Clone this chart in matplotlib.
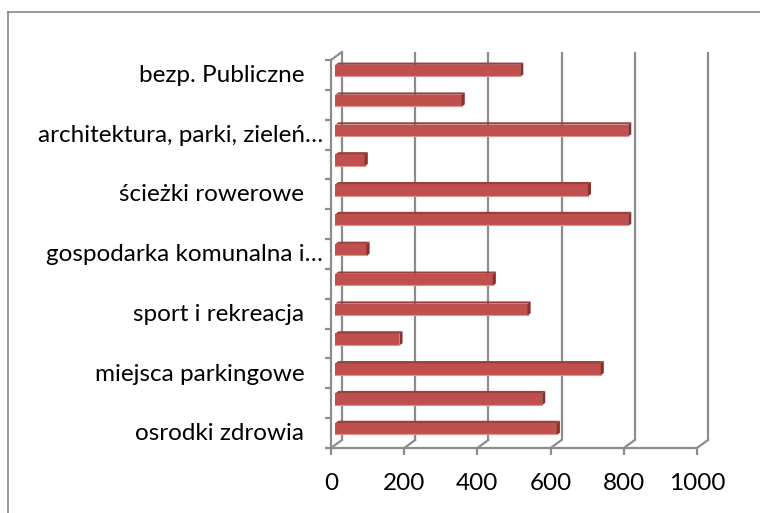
import numpy as np
import matplotlib
matplotlib.use("Agg")
import matplotlib.pyplot as plt
from matplotlib.lines import Line2D
from matplotlib.patches import Polygon

# bottom -> top, only every other category name fits on the axis
categories = ["osrodki zdrowia   ", "", "miejsca parkingowe   ", "", "sport i rekreacja   ", "",
              "gospodarka komunalna i…", "", "ścieżki rowerowe   ", "",
              "architektura, parki, zieleń…", "", "bezp. Publiczne   "]
values = [605, 565, 725, 175, 525, 430, 85, 800, 690, 80, 800, 345, 505]
x_ticks = [0, 200, 400, 600, 800, 1000]

W, H = 760, 513
X0, PX_PER_UNIT = 331, 0.366      # front plane: value 0 at x=331 px
Y0, PX_PER_CAT = 448, 29.85       # front plane: category floor at y=448 px
DX = 11 / PX_PER_UNIT             # depth offset of the back wall
DY = 8 / PX_PER_CAT

GRID = "#8c8c8c"
FRONT = "#c0504d"
TOP = "#9b3f3c"
SIDE = "#843130"
EDGE = "#dc9593"
FONT = "Lato"
FS = 17.5

fig = plt.figure(figsize=(W / 100, H / 100), dpi=100)
ax = fig.add_axes([0, 0, 1, 1])
ax.set_xlim(-X0 / PX_PER_UNIT, (W - X0) / PX_PER_UNIT)
ax.set_ylim((Y0 - H) / PX_PER_CAT, Y0 / PX_PER_CAT)
ax.axis("off")

# chart area frame
fig.add_artist(Line2D([8 / W, 1], [1 - 12 / H, 1 - 12 / H], color="#868686", lw=1.2))
fig.add_artist(Line2D([8 / W, 8 / W], [0, 1 - 12 / H], color="#868686", lw=1.2))

n = len(values)
idx = np.arange(n)

# back wall gridlines and floor
ax.vlines([t + DX for t in x_ticks], DY, n + DY, color=GRID, lw=1.6, zorder=1)
ax.plot([0, x_ticks[-1]], [0, 0], color=GRID, lw=1.6, zorder=1)
for t in x_ticks:
    ax.plot([t, t + DX], [0, DY], color=GRID, lw=1.6, zorder=1)
ax.vlines(x_ticks, -7 / PX_PER_CAT, 0, color=GRID, lw=1.6)

# side wall (category axis)
ax.plot([0, 0], [0, n], color=GRID, lw=1.6, zorder=1)
ax.plot([0, DX], [n, n + DY], color=GRID, lw=1.6, zorder=1)
ax.hlines(np.arange(n + 1), -6 / PX_PER_UNIT, 0, color=GRID, lw=1.6)

# 3-D bars: front face plus top and side faces
f0, f1 = 0.40, 0.68
base, hgt = 0.33, 0.40
bottoms = idx + base + f0 * DY
ax.barh(bottoms, values, height=hgt, left=f0 * DX, align="edge",
        color=FRONT, lw=0, zorder=3)
ddx, ddy = (f1 - f0) * DX, (f1 - f0) * DY
for yb, v in zip(bottoms, values):
    yt = yb + hgt
    x1 = f0 * DX + v
    ax.add_patch(Polygon([(f0 * DX, yt), (x1, yt), (x1 + ddx, yt + ddy), (f0 * DX + ddx, yt + ddy)],
                         closed=True, color=TOP, lw=0, zorder=3))
    ax.add_patch(Polygon([(x1, yb), (x1, yt), (x1 + ddx, yt + ddy), (x1 + ddx, yb + ddy)],
                         closed=True, color=SIDE, lw=0, zorder=3))
    ax.plot([f0 * DX, x1], [yb + 0.02, yb + 0.02], color=EDGE, lw=0.8, zorder=4)

# labels
for i, lab in enumerate(categories):
    if lab:
        ax.text(-8 / PX_PER_UNIT, i + 0.26, lab, ha="right", va="baseline",
                fontsize=FS, family=FONT, color="black")
for t in x_ticks:
    ax.text(t, -1.41, str(t), ha="center", va="baseline", fontsize=FS, family=FONT)

fig.savefig("out.png", dpi=100)
